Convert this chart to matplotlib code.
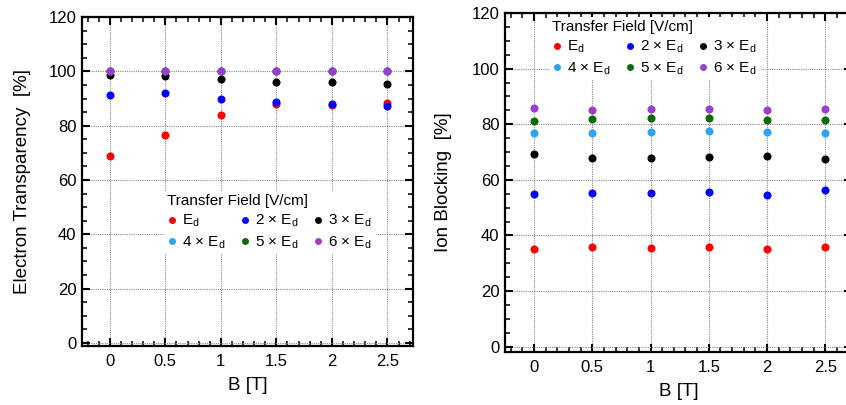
import matplotlib
matplotlib.use("Agg")
import matplotlib.pyplot as plt
from matplotlib.lines import Line2D
from matplotlib.ticker import MultipleLocator

plt.rcParams["font.family"] = ["Liberation Sans", "DejaVu Sans"]
plt.rcParams["mathtext.fontset"] = "custom"
plt.rcParams["mathtext.rm"] = "Liberation Sans"
plt.rcParams["mathtext.it"] = "Liberation Sans"

# Magnetic field values [T]
b_field = [0, 0.5, 1, 1.5, 2, 2.5]

series_labels = [r"E$_\mathregular{d}$", r"2 × E$_\mathregular{d}$", r"3 × E$_\mathregular{d}$",
                 r"4 × E$_\mathregular{d}$", r"5 × E$_\mathregular{d}$", r"6 × E$_\mathregular{d}$"]
series_colors = ["#ff0000", "#0000ff", "#000000", "#2ea3f2", "#0b6b0b", "#9a3ecf"]

# Electron transparency [%] per transfer field
et_1 = [68.7, 76.4, 83.8, 88.0, 87.5, 88.5]
et_2 = [91.2, 92.2, 90.0, 88.7, 88.1, 87.4]
et_3 = [98.8, 98.2, 97.2, 96.1, 96.0, 95.5]
et_4 = [100.0, 100.0, 100.0, 100.0, 100.0, 100.0]
et_5 = [100.0, 100.0, 100.0, 100.0, 100.0, 100.0]
et_6 = [100.0, 100.0, 100.0, 100.0, 100.0, 100.0]

# Ion blocking [%] per transfer field
ib_1 = [35.3, 35.7, 35.6, 35.8, 35.2, 35.9]
ib_2 = [55.0, 55.1, 55.3, 55.6, 54.7, 56.3]
ib_3 = [69.3, 67.8, 68.0, 68.1, 68.6, 67.6]
ib_4 = [76.9, 76.9, 77.2, 77.5, 77.1, 77.0]
ib_5 = [81.3, 82.0, 82.2, 82.4, 81.5, 81.7]
ib_6 = [86.0, 85.1, 85.4, 85.3, 85.1, 85.3]

et_all = [et_1, et_2, et_3, et_4, et_5, et_6]
ib_all = [ib_1, ib_2, ib_3, ib_4, ib_5, ib_6]

W, H = 846, 405
fig = plt.figure(figsize=(W / 100, H / 100), dpi=100)


def px_axes(left, top, right, bottom):
    return fig.add_axes([left / W, 1 - bottom / H, (right - left) / W, (bottom - top) / H])


ax1 = px_axes(82, 17.2, 413, 345.5)
ax2 = px_axes(505, 13.0, 852, 351.7)


def style(ax, ylo, ylabel):
    ax.set_xlim(-0.25, 2.73)
    ax.set_ylim(ylo, 120)
    ax.xaxis.set_major_locator(MultipleLocator(0.5))
    ax.xaxis.set_minor_locator(MultipleLocator(0.1))
    ax.yaxis.set_major_locator(MultipleLocator(20))
    ax.yaxis.set_minor_locator(MultipleLocator(5))
    ax.set_xticks([0, 0.5, 1, 1.5, 2, 2.5])
    ax.set_xticklabels(["0", "0.5", "1", "1.5", "2", "2.5"])
    ax.tick_params(which="both", direction="in", top=True, right=True, labelsize=12)
    ax.tick_params(which="major", length=6, width=1.5)
    ax.tick_params(which="minor", length=3.3, width=1.1)
    ax.tick_params(axis="y", which="major", pad=4)
    ax.tick_params(axis="x", which="major", pad=6)
    for s in ax.spines.values():
        s.set_linewidth(1.6)
    ax.grid(True, which="major", linestyle=(0, (1, 1)), color="#8a8a8a", linewidth=0.8)
    ax.set_axisbelow(True)
    ax.set_xlabel("B [T]", fontsize=13.5, labelpad=6)
    ax.set_ylabel(ylabel, fontsize=13.5)


style(ax1, -1, "Electron Transparency  [%]")
style(ax2, -1.8, "Ion Blocking  [%]")
ax1.yaxis.set_label_coords(-0.155, 0.5)
ax2.yaxis.set_label_coords(-0.153, 0.5)

for vals, c in zip(et_all, series_colors):
    ax1.plot(b_field, vals, "o", color=c, markersize=5.8, markeredgewidth=0, zorder=3)
for vals, c in zip(ib_all, series_colors):
    ax2.plot(b_field, vals, "o", color=c, markersize=5.8, markeredgewidth=0, zorder=3)

# legend fills column by column, so interleave to get rows E_d..3E_d / 4E_d..6E_d
legend_order = [0, 3, 1, 4, 2, 5]


def add_legend(ax, anchor):
    handles = [Line2D([], [], marker="o", linestyle="none", color=series_colors[i],
                      markersize=5, markeredgewidth=0) for i in legend_order]
    labels = [series_labels[i] for i in legend_order]
    leg = ax.legend(handles, labels, ncol=3, title="Transfer Field [V/cm]",
                    loc="upper left", bbox_to_anchor=anchor, bbox_transform=fig.transFigure,
                    fontsize=11, title_fontsize=11, frameon=True, framealpha=1,
                    edgecolor="none", facecolor="white", fancybox=False,
                    handlelength=0.6, handletextpad=0.35, columnspacing=1.0,
                    labelspacing=0.33, borderpad=0.2, borderaxespad=0)
    leg._legend_box.align = "left"
    leg.set_zorder(5)
    return leg


add_legend(ax1, (164 / W, 1 - 191 / H))
add_legend(ax2, (549 / W, 1 - 17 / H))

fig.savefig("out.png", dpi=100)
